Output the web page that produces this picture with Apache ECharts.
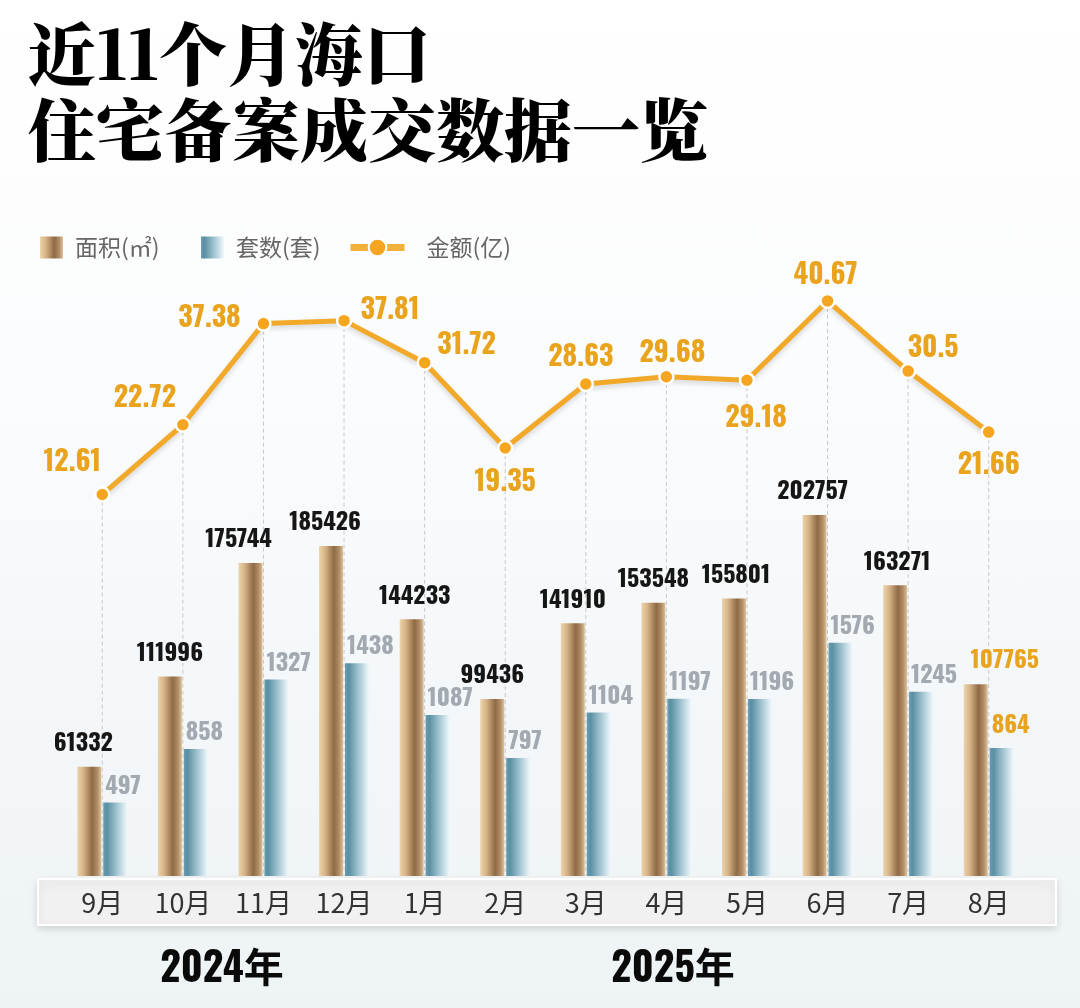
<!DOCTYPE html>
<html>
<head>
<meta charset="utf-8">
<script src="https://cdn.jsdelivr.net/npm/echarts@6/dist/echarts.min.js"></script>
<style>
html,body{margin:0;padding:0;}
body{width:1080px;height:1008px;background:linear-gradient(180deg,#ffffff 0%,#fbfcfd 35%,#eef3f6 100%);}
#c{width:1080px;height:1008px;}
</style>
</head>
<body>
<div id="c"></div>
<script>
// ---- data ----
const months = ['9月','10月','11月','12月','1月','2月','3月','4月','5月','6月','7月','8月'];
const areaValues = [61332,111996,175744,185426,144233,99436,141910,153548,155801,202757,163271,107765];
const unitValues = [497,858,1327,1438,1087,797,1104,1197,1196,1576,1245,864];
const amountValues = [12.61,22.72,37.38,37.81,31.72,19.35,28.63,29.68,29.18,40.67,30.5,21.66];
const yearLabels = ['2024年','2025年'];
const titleLines = ['近11个月海口','住宅备案成交数据一览'];
const seriesNames = ['面积(㎡)','套数(套)','金额(亿)'];

// ---- label layout (style only) ----
const areaLabelDx = [-6,0,-12,-6,3,0,0,0,2,-2,2,29];
const amountLabelOffset = [[-30,-32],[-38,-26],[-54,-5],[46,-10],[42,-17],[0,34],[-5,-27],[6,-23],[9,38],[-2,-25],[25,-23],[0,33]];

const NARROW = "Oswald,'Roboto Condensed','DejaVu Sans Condensed','Noto Sans CJK SC',sans-serif";
const CJK = "'Noto Sans CJK SC','Noto Sans',sans-serif";
const ORANGE = '#e9a31c';
const lastIdx = months.length - 1;

const areaColor = new echarts.graphic.LinearGradient(0,0,1,0,[
  {offset:0,color:'#ecd4aa'},{offset:0.25,color:'#d6b487'},
  {offset:0.62,color:'#8f6a45'},{offset:0.85,color:'#b4916a'},{offset:1,color:'#dfc49b'}]);
const unitColor = new echarts.graphic.LinearGradient(0,0,1,0,[
  {offset:0,color:'#6a9db0'},{offset:0.15,color:'#5a8fa3'},
  {offset:0.6,color:'#a8c9d5'},{offset:1,color:'#f1f8fb'}]);

const chart = echarts.init(document.getElementById('c'));

const legendBase = {
  top: 231, itemWidth: 23, itemHeight: 22, icon: 'rect',
  textStyle: {fontSize: 23, color: '#666', fontFamily: CJK, padding:[0,0,0,7]},
  selectedMode: false
};

chart.setOption({
  backgroundColor: 'transparent',
  animation: false,
  grid: {left: 62, right: 51, top: 260, bottom: 132},
  legend: [
    Object.assign({}, legendBase, {left: 35, data: [seriesNames[0]]}),
    Object.assign({}, legendBase, {left: 196, data: [seriesNames[1]]}),
    {
      left: 342, top: 231, itemWidth: 54, itemHeight: 22, selectedMode: false,
      textStyle: {fontSize: 23, color: '#666', fontFamily: CJK, padding:[0,0,0,17]},
      lineStyle: {width: 7, color: '#f3b13a'},
      itemStyle: {color: '#f5a51f', borderColor: '#ffffff', borderWidth: 2},
      data: [seriesNames[2]]
    }
  ],
  xAxis: {
    type: 'category', data: months, z: 5,
    axisLine: {show: false}, axisTick: {show: false},
    axisLabel: {margin: 13, fontSize: 27, color: '#333', fontFamily: CJK}
  },
  yAxis: [
    {type: 'value', min: 0, max: 346000, show: false},
    {type: 'value', min: 0, max: 4162, show: false},
    {type: 'value', min: -42.68, max: 46.6, show: false}
  ],
  graphic: [
    {type:'rect', z:-1, shape:{x:38,y:879,width:1018,height:46},
     style:{fill:'#f1f1f1', stroke:'#ffffff', lineWidth:2, shadowBlur:8, shadowColor:'rgba(0,0,0,0.13)', shadowOffsetY:3}},
    {type:'text', left: 28, top: 20, z: 10, style:{text: titleLines[0], font: "900 68px 'Noto Serif CJK SC','Noto Sans CJK SC'", fill:'#000'}},
    {type:'text', left: 28, top: 96, z: 10, style:{text: titleLines[1], font: "900 68px 'Noto Serif CJK SC','Noto Sans CJK SC'", fill:'#000'}},
    {type:'text', z: 10, style:{x:222, y:970, text: yearLabels[0], align:'center', verticalAlign:'middle',
      font: "bold 40px " + NARROW, fill:'#0a0a0a'}},
    {type:'text', z: 10, style:{x:673, y:970, text: yearLabels[1], align:'center', verticalAlign:'middle',
      font: "bold 40px " + NARROW, fill:'#0a0a0a'}}
  ],
  series: [
    {
      type: 'custom', xAxisIndex: 0, yAxisIndex: 2, z: 1, silent: true,
      data: amountValues.map((v,i)=>[i,v]),
      renderItem: function(params, api){
        const p = api.coord([api.value(0), api.value(1)]);
        const bottom = params.coordSys.y + params.coordSys.height;
        return {type:'line', shape:{x1:p[0], y1:p[1], x2:p[0], y2:bottom},
          style:{stroke:'#c9c9c9', lineWidth:1, lineDash:[4,3]}};
      }
    },
    {
      name: seriesNames[0], type: 'bar', yAxisIndex: 0, barWidth: 24, barGap: '8%', z: 2,
      itemStyle: {color: areaColor},
      data: areaValues.map((v,i)=>({value:v, label:{offset:[areaLabelDx[i],0], color: i===lastIdx ? ORANGE : '#161616'}})),
      label: {show: true, position: 'top', distance: 11, fontSize: 24, fontWeight: 'bold', fontFamily: NARROW, color:'#161616'}
    },
    {
      name: seriesNames[1], type: 'bar', yAxisIndex: 1, barWidth: 24, barGap: '8%', z: 2,
      itemStyle: {color: unitColor},
      data: unitValues.map((v,i)=>({value:v, label:{offset:[-10, i===lastIdx ? -6 : 0], color: i===lastIdx ? ORANGE : '#a3a9b0'}})),
      label: {show: true, position: 'top', align: 'left', distance: 4, fontSize: 24, fontWeight: 'bold', fontFamily: NARROW, color:'#a3a9b0'}
    },
    {
      name: seriesNames[2], type: 'line', yAxisIndex: 2, z: 4,
      symbol: 'circle', symbolSize: 14,
      lineStyle: {color: '#f2a92a', width: 5, shadowBlur: 5, shadowColor: 'rgba(0,0,0,0.15)', shadowOffsetY: 3},
      itemStyle: {color: '#f5a51f', borderColor: '#ffffff', borderWidth: 2.5},
      data: amountValues.map((v,i)=>({value:v, label:{offset: amountLabelOffset[i]}})),
      label: {show: true, position: 'inside', fontSize: 28, fontWeight: 'bold', fontFamily: NARROW, color: ORANGE}
    }
  ]
});
</script>
</body>
</html>
